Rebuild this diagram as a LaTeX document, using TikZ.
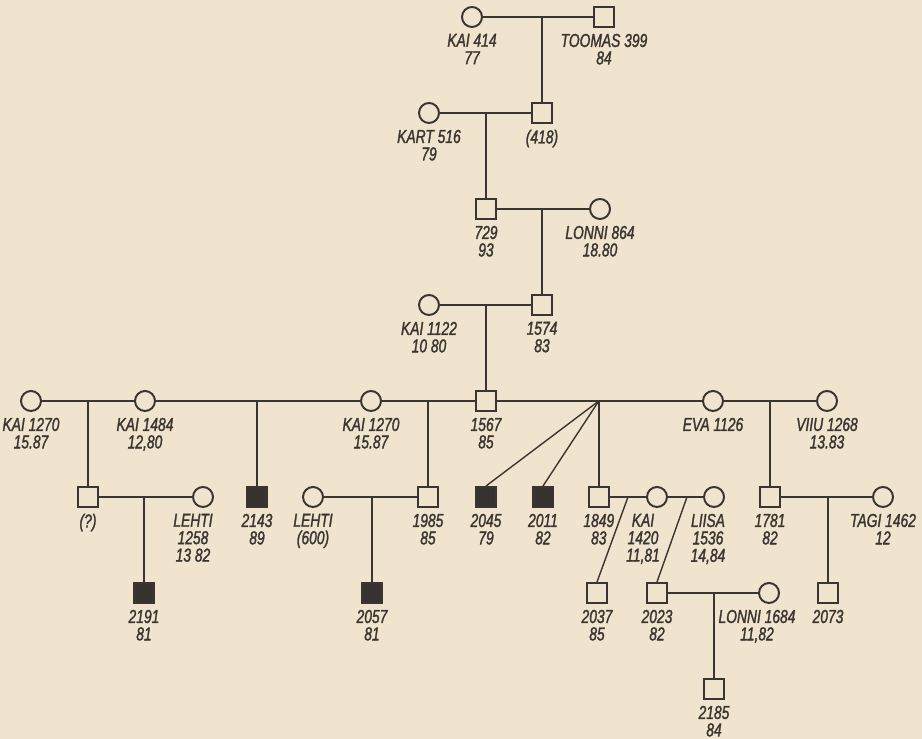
\documentclass[tikz,border=0pt]{standalone}
\usepackage{fontspec}
\usetikzlibrary{positioning}
\newfontfamily\pedfont[FakeStretch=0.74,FakeBold=1.5]{Liberation Sans}
\definecolor{paperbg}{HTML}{F0E4CE}
\definecolor{ink}{HTML}{3A3531}

\begin{document}
\begin{tikzpicture}[
  x=1cm,y=1cm,
  female/.style={circle,draw=ink,line width=1.4pt,minimum size=5mm,inner sep=0pt},
  male/.style={rectangle,draw=ink,line width=1.4pt,minimum size=5mm,inner sep=0pt},
  affected/.style={male,fill=ink!95!black},
  lbl/.style={font=\pedfont\itshape\fontsize{13.3pt}{12.4pt}\selectfont,text=ink,
    align=center,inner sep=2pt},
  every label/.style={lbl},
  label distance=2pt,
  tie/.style={draw=ink,line width=1pt}
]
\useasboundingbox[fill=paperbg] (0,0) rectangle (23.05,18.475);
% generation I--IV
\node[female] (k414)  at (11.8,18.05)  [label=below:{KAI 414\\77}] {};
\node[male]   (t399)  at (15.1,18.05)  [label=below:{TOOMAS 399\\84}] {};
\node[female] (k516)  at (10.725,15.65) [label=below:{KART 516\\79}] {};
\node[male]   (s418)  at (13.55,15.65) [label=below:{(418)}] {};
\node[male]   (s729)  at (12.15,13.25) [label=below:{729\\93}] {};
\node[female] (l864)  at (15.0,13.25)  [label=below:{LONNI 864\\18.80}] {};
\node[female] (k1122) at (10.725,10.85) [label=below:{KAI 1122\\10 80}] {};
\node[male]   (s1574) at (13.55,10.85) [label=below:{1574\\83}] {};
% generation V
\node[female] (k1270a) at (0.775,8.45)  [label=below:{KAI 1270\\15.87}] {};
\node[female] (k1484)  at (3.625,8.45)  [label=below:{KAI 1484\\12,80}] {};
\node[female] (k1270b) at (9.275,8.45)  [label=below:{KAI 1270\\15.87}] {};
\node[male]   (s1567)  at (12.15,8.45)  [label=below:{1567\\85}] {};
\node[female] (eva)    at (17.825,8.45) [label=below:{EVA 1126}] {};
\node[female] (v1268)  at (20.675,8.45) [label=below:{VIIU 1268\\13.83}] {};
% generation VI
\node[male]     (sq)    at (2.2,6.05)    [label=below:{(?)}] {};
\node[female]   (l1258) at (5.075,6.05)  [label={[xshift=-0.25cm]below:{LEHTI\\1258\\13 82}}] {};
\node[affected] (s2143) at (6.425,6.05)  [label=below:{2143\\89}] {};
\node[female]   (l600)  at (7.825,6.05)  [label=below:{LEHTI\\(600)}] {};
\node[male]     (s1985) at (10.7,6.05)   [label=below:{1985\\85}] {};
\node[affected] (s2045) at (12.15,6.05)  [label=below:{2045\\79}] {};
\node[affected] (s2011) at (13.575,6.05) [label=below:{2011\\82}] {};
\node[male]     (s1849) at (14.97,6.05)  [label=below:{1849\\83}] {};
\node[female]   (k1420) at (16.425,6.05) [label={[xshift=-0.35cm]below:{KAI\\1420\\11,81}}] {};
\node[female]   (l1536) at (17.85,6.05)  [label={[xshift=-0.15cm]below:{LIISA\\1536\\14,84}}] {};
\node[male]     (s1781) at (19.25,6.05)  [label=below:{1781\\82}] {};
\node[female]   (t1462) at (22.075,6.05) [label=below:{TAGI 1462\\12}] {};
% generation VII--VIII
\node[affected] (s2191) at (3.6,3.65)    [label=below:{2191\\81}] {};
\node[affected] (s2057) at (9.3,3.65)    [label=below:{2057\\81}] {};
\node[male]     (s2037) at (14.925,3.65) [label=below:{2037\\85}] {};
\node[male]     (s2023) at (16.425,3.65) [label=below:{2023\\82}] {};
\node[female]   (l1684) at (19.225,3.65) [label={[xshift=-0.3cm]below:{LONNI 1684\\11,82}}] {};
\node[male]     (s2073) at (20.7,3.65)   [label=below:{2073}] {};
\node[male]     (s2185) at (17.85,1.25)  [label=below:{2185\\84}] {};
\coordinate (sib) at (s1849 |- s1567);
\coordinate (tw1) at (15.7,6.05);
\coordinate (tw2) at (17.175,6.05);
% marriages
\draw[tie] (k414) -- (t399);
\draw[tie] (k516) -- (s418);
\draw[tie] (s729) -- (l864);
\draw[tie] (k1122) -- (s1574);
\draw[tie] (k1270a) -- (k1484) -- (k1270b) -- (s1567) -- (eva) -- (v1268);
\draw[tie] (sq) -- (l1258);
\draw[tie] (l600) -- (s1985);
\draw[tie] (s1849) -- (k1420) -- (l1536);
\draw[tie] (s1781) -- (t1462);
\draw[tie] (s2023) -- (l1684);
% descent
\draw[tie] (s418) -- (s418 |- k414);
\draw[tie] (s729) -- (s729 |- k516);
\draw[tie] (s1574) -- (s1574 |- s729);
\draw[tie] (s1567) -- (s1567 |- k1122);
\draw[tie] (sq) -- (sq |- k1270a);
\draw[tie] (s2143) -- (s2143 |- k1484);
\draw[tie] (s1985) -- (s1985 |- s1567);
\draw[tie] (s1781) -- (s1781 |- eva);
\draw[tie] (s2191) -- (s2191 |- sq);
\draw[tie] (s2057) -- (s2057 |- l600);
\draw[tie] (s2073) -- (s2073 |- t1462);
\draw[tie] (s2185) -- (s2185 |- s2023);
\draw[tie] (sib) -- (s2045.north);
\draw[tie] (sib) -- (s2011.north);
\draw[tie] (sib) -- (s1849);
\draw[tie] (tw1) -- (s2037.north);
\draw[tie] (tw2) -- (s2023.north);
\end{tikzpicture}
\end{document}
